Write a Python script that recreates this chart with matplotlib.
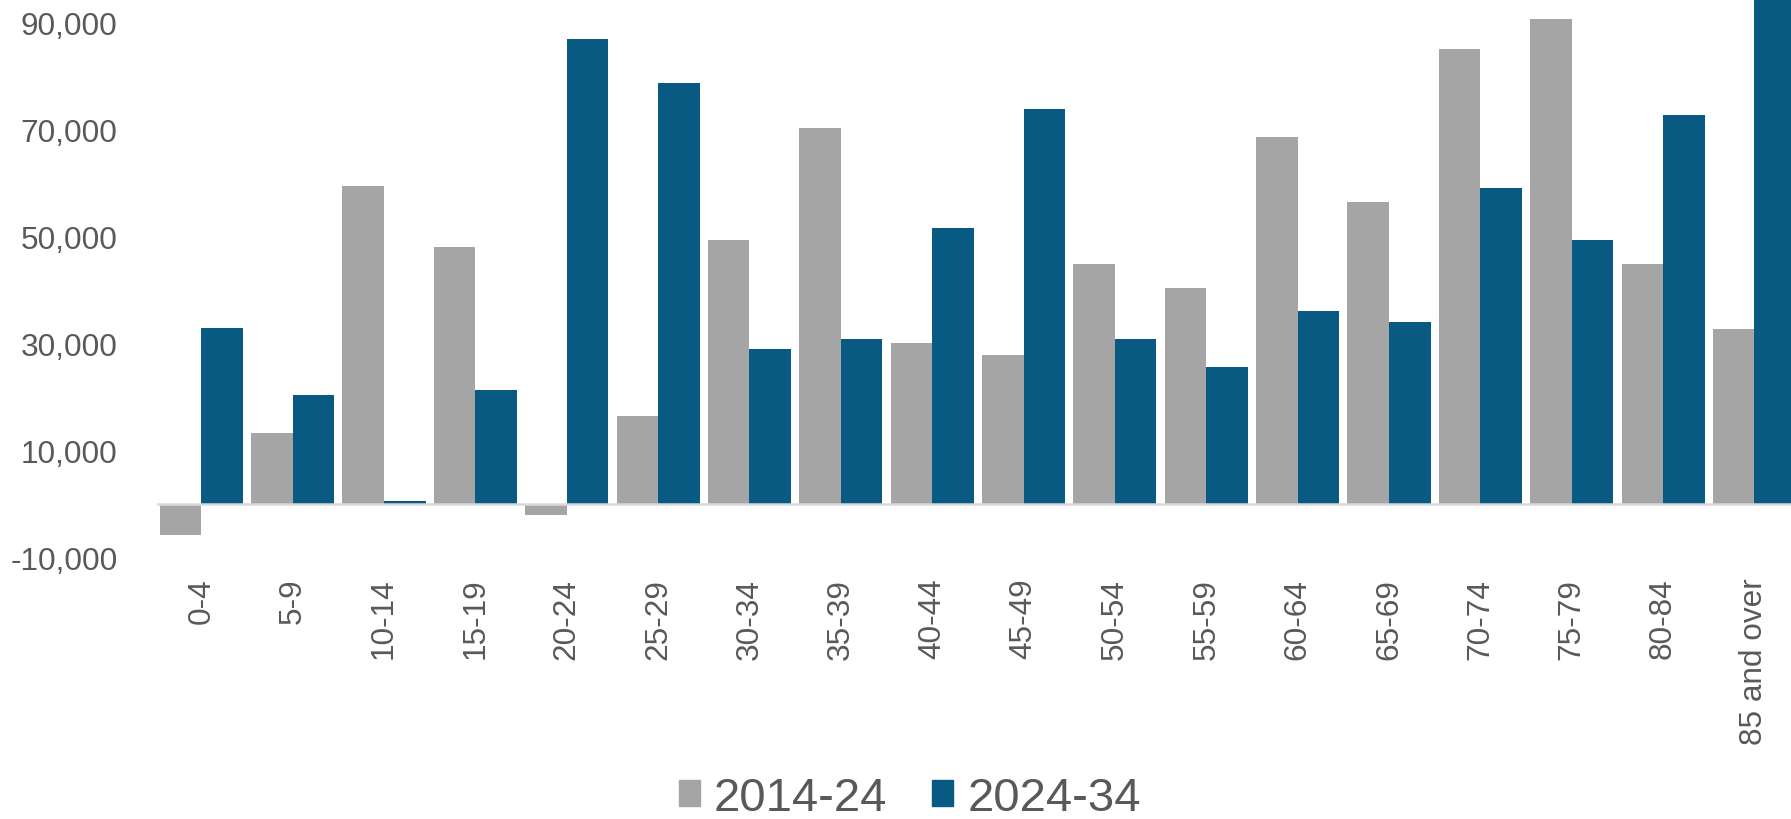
import numpy as np
import matplotlib.pyplot as plt
from matplotlib.patches import Patch

# age groups and change in population per decade
ages = ['0-4', '5-9', '10-14', '15-19', '20-24', '25-29', '30-34', '35-39',
        '40-44', '45-49', '50-54', '55-59', '60-64', '65-69', '70-74',
        '75-79', '80-84', '85 and over']
change_2014_24 = [-5800, 13300, 59300, 47900, -2000, 16500, 49300, 70300,
                  30000, 27800, 44800, 40300, 68500, 56400, 85000, 90600,
                  44800, 32700]
change_2024_34 = [32800, 20400, 600, 21200, 86900, 78600, 28900, 30800,
                  51600, 73700, 30800, 25500, 35950, 34000, 59100, 49300,
                  72600, 101000]
series_names = ['2014-24', '2024-34']
yticks = [-10000, 10000, 30000, 50000, 70000, 90000]

gray = '#A5A5A5'
blue = '#085A82'
text_col = '#595959'

fig = plt.figure(figsize=(17.91, 8.2), dpi=100)
ax = fig.add_axes([0.0874, 0.3188, 0.9126, 0.6812])

x = np.arange(len(ages))
w = 0.455
ax.bar(x - w / 2, change_2014_24, width=w, color=gray, zorder=2)
ax.bar(x + w / 2, change_2024_34, width=w, color=blue, zorder=2)
ax.axhline(0, color='#D9D9D9', linewidth=1.8, zorder=3)

ax.set_xlim(-0.49, 17.4)
ax.set_ylim(-10000, 94300)
ax.set_yticks(yticks)
ax.set_yticklabels(['{:,}'.format(v) for v in yticks])
ax.set_xticks(x)
ax.set_xticklabels(ages, rotation=90)

for s in ax.spines.values():
    s.set_visible(False)
ax.tick_params(axis='y', length=0, pad=28, labelsize=22.7, labelcolor=text_col)
ax.tick_params(axis='x', length=0, pad=14.5, labelsize=22.7, labelcolor=text_col)
for lab in ax.get_xticklabels() + ax.get_yticklabels():
    lab.set_fontfamily('Liberation Sans')

handles = [Patch(color=gray), Patch(color=blue)]
leg = fig.legend(handles, series_names, loc='center', ncol=2,
                 bbox_to_anchor=(0.508, 0.026), frameon=False,
                 prop={'family': 'Liberation Sans', 'size': 34},
                 handlelength=0.45, handleheight=0.45, handletextpad=0.3,
                 columnspacing=0.95, borderaxespad=0, borderpad=0)
for t in leg.get_texts():
    t.set_color(text_col)

fig.savefig('out.png', dpi=100)
